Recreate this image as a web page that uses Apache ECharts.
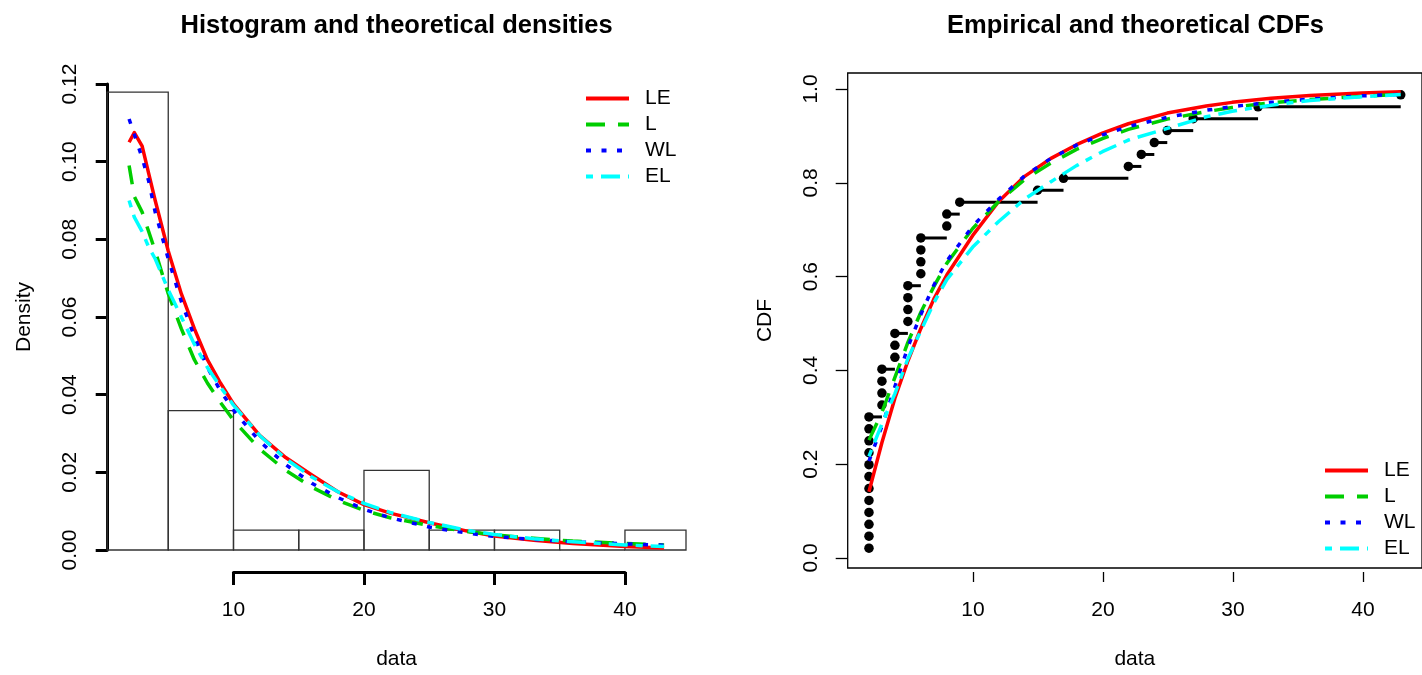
<!DOCTYPE html>
<html>
<head>
<meta charset="utf-8">
<script src="https://cdn.jsdelivr.net/npm/echarts@6/dist/echarts.min.js"></script>
<style>
html,body{margin:0;padding:0;background:#fff;}
#c{width:1422px;height:675px;}
</style>
</head>
<body>
<div id="c"></div>
<script>
// ---------------- data ----------------
const modelNames = ['LE', 'L', 'WL', 'EL'];
const modelColors = ['#FF0000', '#00CD00', '#0000FF', '#00FFFF'];

// histogram bins (density scale)
const binStart = [0, 5, 10, 15, 20, 25, 30, 35, 40];
const binEnd   = [5, 10, 15, 20, 25, 30, 35, 40, 45];
const binDensity = [0.1179, 0.0359, 0.0051, 0.0051, 0.0205, 0.0051, 0.0051, 0, 0.0051];

// theoretical densities
const densX = [2, 2.4, 3, 3.5, 4, 5, 6, 7, 8, 9, 10, 12, 14, 16, 18, 20, 22, 25, 28, 30, 33, 36, 40, 43];
const densLE = [0.105, 0.1075, 0.104, 0.097, 0.090, 0.077, 0.066, 0.057, 0.049, 0.043, 0.0376, 0.0295, 0.0238, 0.0193, 0.015, 0.0117, 0.0095, 0.0070, 0.0048, 0.0036, 0.0025, 0.0017, 0.0009, 0.0005];
const densL  = [0.099, 0.091, 0.087, 0.082, 0.077, 0.066, 0.057, 0.049, 0.043, 0.038, 0.0334, 0.026, 0.0205, 0.0162, 0.0128, 0.0102, 0.0083, 0.0063, 0.0047, 0.0039, 0.0030, 0.0023, 0.0017, 0.0013];
const densWL = [0.111, 0.107, 0.101, 0.095, 0.087, 0.075, 0.064, 0.055, 0.047, 0.041, 0.036, 0.028, 0.022, 0.0172, 0.0135, 0.0105, 0.0083, 0.0059, 0.0043, 0.0035, 0.0027, 0.0021, 0.0016, 0.0012];
const densEL = [0.090, 0.0857, 0.082, 0.078, 0.075, 0.067, 0.060, 0.053, 0.047, 0.042, 0.0373, 0.0295, 0.0235, 0.0188, 0.015, 0.012, 0.0097, 0.0071, 0.0050, 0.0040, 0.0029, 0.0021, 0.0013, 0.0009];

// theoretical CDFs
const cdfX = [2, 3, 4, 5, 6, 7, 8, 10, 12, 14, 16, 18, 20, 22, 25, 28, 30, 33, 36, 40, 43];
const cdfLE = [0.134, 0.24, 0.335, 0.415, 0.485, 0.548, 0.60, 0.685, 0.758, 0.812, 0.85, 0.88, 0.905, 0.925, 0.948, 0.963, 0.971, 0.980, 0.986, 0.991, 0.994];
const cdfL  = [0.245, 0.305, 0.38, 0.455, 0.52, 0.575, 0.625, 0.70, 0.758, 0.805, 0.84, 0.87, 0.893, 0.913, 0.935, 0.951, 0.96, 0.97, 0.977, 0.984, 0.988];
const cdfWL = [0.20, 0.275, 0.36, 0.445, 0.515, 0.578, 0.63, 0.705, 0.763, 0.813, 0.85, 0.879, 0.901, 0.919, 0.939, 0.954, 0.962, 0.971, 0.978, 0.985, 0.988];
const cdfEL = [0.21, 0.28, 0.345, 0.42, 0.48, 0.54, 0.59, 0.66, 0.715, 0.763, 0.80, 0.835, 0.865, 0.89, 0.915, 0.94, 0.952, 0.965, 0.975, 0.983, 0.988];

// sorted observations and their empirical probabilities
const obs = [2,2,2,2,2,2,2,2,2,2,2,2, 3,3,3,3, 4,4,4, 5,5,5,5, 6,6,6,6, 8,8, 9, 15, 17, 22, 23, 24, 25, 27, 32, 43];
const obsP = [0.0128,0.0385,0.0641,0.0897,0.1154,0.1410,0.1667,0.1923,0.2179,0.2436,0.2692,0.2949,
              0.3205,0.3462,0.3718,0.3974,0.4231,0.4487,0.4744,0.5000,0.5256,0.5513,0.5769,0.6026,
              0.6282,0.6538,0.6795,0.7051,0.7308,0.7564,0.7821,0.8077,0.8333,0.8590,0.8846,0.9103,
              0.9359,0.9615,0.9872];

const xTicks = [10, 20, 30, 40];

// ---------------- layout ----------------
const FONT = 'Liberation Sans, Arial, Helvetica, sans-serif';
const XLO = 0.36, XHI = 44.64;
const L1 = 107.7, R1 = 685.5, T1 = 84, B1 = 554;      // left panel data area (y 0..0.12)
const L2 = 847.7, R2 = 1423.3, T2 = 73, B2 = 572;     // right panel box
const Y0 = 558, Y1 = 89;                               // right panel pixel of 0 and 1
const AXY = 572;                                       // x-axis line position
function px(L, R, v) { return L + (v - XLO) / (XHI - XLO) * (R - L); }
const yLo2 = -(B2 - Y0) / (Y0 - Y1), yHi2 = 1 + (Y1 - T2) / (Y0 - Y1);

const zip = (xs, ys) => xs.map((x, i) => [x, ys[i]]);
const densArr = [densLE, densL, densWL, densEL];
const cdfArr = [cdfLE, cdfL, cdfWL, cdfEL];
const dashes = ['solid', [19, 13], [5, 10.5], [7, 8, 19, 8]];

const chart = echarts.init(document.getElementById('c'), null, {renderer: 'canvas'});

const lbl = {color: '#000', fontFamily: FONT, fontSize: 21};
const hiddenAxis = (gi) => ({gridIndex: gi, type: 'value', show: false, min: 0, max: 1});

const series = [];
// histogram
series.push({
  type: 'custom', name: 'hist', xAxisIndex: 0, yAxisIndex: 0, z: 1,
  data: binStart.map((s, i) => [s, binEnd[i], binDensity[i]]),
  renderItem: function (params, api) {
    const a = api.coord([api.value(0), api.value(2)]);
    const b = api.coord([api.value(1), 0]);
    const rect = echarts.graphic.clipRectByRect(
      {x: a[0], y: a[1], width: b[0] - a[0], height: b[1] - a[1]},
      {x: params.coordSys.x - 0.5, y: params.coordSys.y, width: params.coordSys.width + 1, height: params.coordSys.height + 1});
    if (!rect) return null;
    return {type: 'rect', shape: rect, style: {fill: 'none', stroke: '#333', lineWidth: 1.3}};
  }
});
modelNames.forEach((n, k) => {
  series.push({
    type: 'line', name: n, xAxisIndex: 0, yAxisIndex: 0, z: 3 + k,
    data: zip(densX, densArr[k]), symbol: 'none', smooth: false,
    lineStyle: {color: modelColors[k], width: 3.5, type: dashes[k], cap: 'butt', join: 'round'},
    itemStyle: {color: modelColors[k]}
  });
});
// empirical steps
const steps = obs.slice(0, -1).map((x, i) => [x, obs[i + 1], obsP[i]]);
series.push({
  type: 'custom', name: 'ecdf', xAxisIndex: 2, yAxisIndex: 2, z: 2,
  data: steps,
  renderItem: function (params, api) {
    const a = api.coord([api.value(0), api.value(2)]);
    const b = api.coord([api.value(1), api.value(2)]);
    return {type: 'line', shape: {x1: a[0], y1: a[1], x2: b[0], y2: b[1]}, style: {stroke: '#000', lineWidth: 3}};
  }
});
series.push({
  type: 'scatter', name: 'obs', xAxisIndex: 2, yAxisIndex: 2, z: 2,
  data: zip(obs, obsP), symbol: 'circle', symbolSize: 9.5, itemStyle: {color: '#000', opacity: 1}
});
modelNames.forEach((n, k) => {
  series.push({
    type: 'line', name: n, xAxisIndex: 2, yAxisIndex: 2, z: 3 + k,
    data: zip(cdfX, cdfArr[k]), symbol: 'none', smooth: false,
    lineStyle: {color: modelColors[k], width: 3.5, type: dashes[k], cap: 'butt', join: 'round'},
    itemStyle: {color: modelColors[k]}
  });
});

const legendBase = {
  orient: 'vertical', data: modelNames, itemWidth: 43, itemHeight: 14, itemGap: 5,
  selectedMode: false, padding: 0,
  itemStyle: {opacity: 0},
  lineStyle: {width: 4, cap: 'butt'},
  textStyle: {color: '#000', fontFamily: FONT, fontSize: 21, lineHeight: 21, padding: [0, 0, 0, 11]}
};

const option = {
  animation: false,
  backgroundColor: '#fff',
  title: [
    {text: 'Histogram and theoretical densities', left: (L1 + R1) / 2, top: 13, textAlign: 'center', padding: 0,
     textStyle: {fontFamily: FONT, fontSize: 25.5, fontWeight: 'bold', color: '#000'}},
    {text: 'Empirical and theoretical CDFs', left: (L2 + R2) / 2, top: 13, textAlign: 'center', padding: 0,
     textStyle: {fontFamily: FONT, fontSize: 25.5, fontWeight: 'bold', color: '#000'}}
  ],
  legend: [
    Object.assign({}, legendBase, {left: 584, top: 88}),
    Object.assign({}, legendBase, {left: 1323, top: 460})
  ],
  grid: [
    {left: L1, top: T1, width: R1 - L1, height: B1 - T1},
    {left: px(L1, R1, 10), top: AXY - 10, width: px(L1, R1, 40) - px(L1, R1, 10), height: 10},
    {left: L2, top: T2, width: R2 - L2, height: B2 - T2, show: true, borderColor: '#000', borderWidth: 1.3, backgroundColor: 'transparent'},
    {left: px(L2, R2, 10), top: AXY - 10, width: px(L2, R2, 40) - px(L2, R2, 10), height: 10},
    {left: L2, top: Y1, width: 10, height: Y0 - Y1}
  ],
  xAxis: [
    {gridIndex: 0, type: 'value', min: XLO, max: XHI, show: true,
     axisLine: {show: false}, axisTick: {show: false}, axisLabel: {show: false}, splitLine: {show: false},
     name: 'data', nameLocation: 'middle', nameGap: 99, nameTextStyle: lbl},
    {gridIndex: 1, type: 'value', min: xTicks[0], max: xTicks[xTicks.length - 1], interval: 10,
     axisLine: {show: true, lineStyle: {color: '#000', width: 3}},
     axisTick: {show: true, length: 13, lineStyle: {color: '#000', width: 3}},
     axisLabel: Object.assign({margin: 28}, lbl), splitLine: {show: false}},
    {gridIndex: 2, type: 'value', min: XLO, max: XHI, show: true,
     axisLine: {show: false}, axisTick: {show: false}, axisLabel: {show: false}, splitLine: {show: false},
     name: 'data', nameLocation: 'middle', nameGap: 81, nameTextStyle: lbl},
    {gridIndex: 3, type: 'value', min: xTicks[0], max: xTicks[xTicks.length - 1], interval: 10,
     axisLine: {show: false},
     axisTick: {show: true, length: 10, lineStyle: {color: '#000', width: 1.3}},
     axisLabel: Object.assign({margin: 28}, lbl), splitLine: {show: false}},
    hiddenAxis(4)
  ],
  yAxis: [
    {gridIndex: 0, type: 'value', min: 0, max: 0.12, interval: 0.02,
     axisLine: {show: true, lineStyle: {color: '#000', width: 3}},
     axisTick: {show: true, length: 12, lineStyle: {color: '#000', width: 3}},
     axisLabel: Object.assign({margin: 27, rotate: 90, formatter: v => v.toFixed(2)}, lbl),
     splitLine: {show: false},
     name: 'Density', nameLocation: 'middle', nameGap: 73, nameTextStyle: lbl},
    hiddenAxis(1),
    {gridIndex: 2, type: 'value', min: yLo2, max: yHi2, show: true,
     axisLine: {show: false}, axisTick: {show: false}, axisLabel: {show: false}, splitLine: {show: false},
     name: 'CDF', nameLocation: 'middle', nameGap: 72, nameTextStyle: lbl},
    hiddenAxis(3),
    {gridIndex: 4, type: 'value', min: 0, max: 1, interval: 0.2,
     axisLine: {show: false},
     axisTick: {show: true, length: 12, lineStyle: {color: '#000', width: 1.3}},
     axisLabel: Object.assign({margin: 26, rotate: 90, formatter: v => v.toFixed(1)}, lbl),
     splitLine: {show: false}}
  ],
  series: series
};
chart.setOption(option);
</script>
</body>
</html>
